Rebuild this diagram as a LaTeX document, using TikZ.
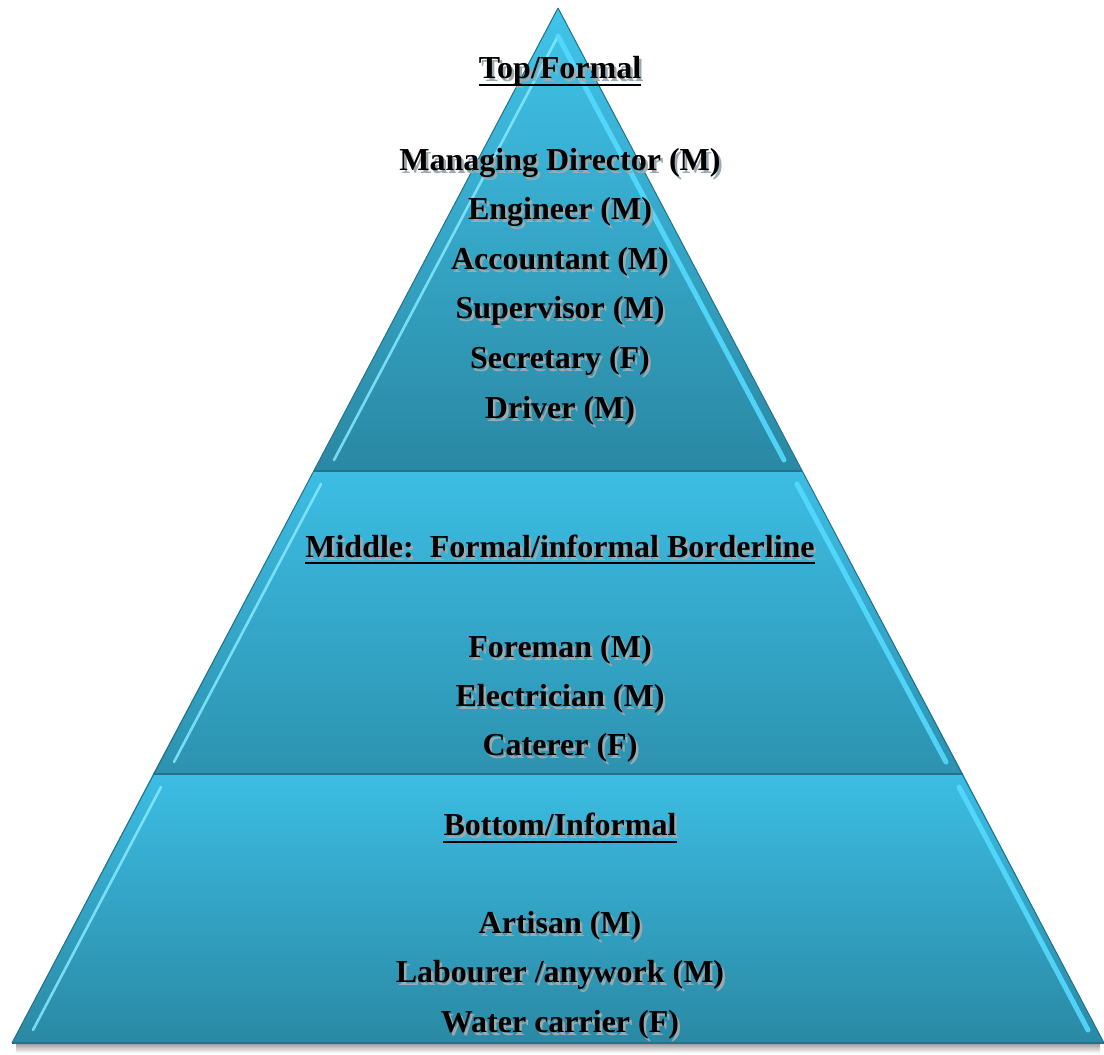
\documentclass[tikz,border=0pt]{standalone}
\usepackage{fontspec}
\setmainfont{Liberation Serif}
\definecolor{secTopA}{HTML}{40C4EA}
\definecolor{secBotA}{HTML}{2A88A3}
\definecolor{secTopB}{HTML}{3CBDE3}
\definecolor{secBotB}{HTML}{2D92B0}
\definecolor{secTopC}{HTML}{3CBDE3}
\definecolor{secBotC}{HTML}{2A89A4}
\definecolor{edgeDark}{HTML}{22728A}
\definecolor{bevelLight}{HTML}{86E9FF}
\definecolor{bevelBright}{HTML}{55DAFF}
\definecolor{txtShadow}{HTML}{9AAAB0}
\tikzset{
  lbl/.style={anchor=base, inner sep=0pt, font=\fontsize{32}{38}\selectfont\bfseries, text=black},
  bevel/.style={draw=bevelLight, line width=2.6pt, opacity=0.85, line cap=round},
  bevelR/.style={draw=bevelBright, line width=5pt, opacity=0.9, line cap=round},
  divider/.style={draw=edgeDark, line width=1.6pt},
  uline/.style={draw=black, line width=2.8pt}
}
\newcommand\shtext[1]{\rlap{\hspace{2.5pt}\raisebox{-3pt}{\textcolor{txtShadow}{#1}}}#1}
\newcommand\plabel[3]{\node[lbl] (#1) at (560,#2) {\shtext{#3}};}
\begin{document}
\begin{tikzpicture}[x=1pt,y=-1pt]
\useasboundingbox (0,0) rectangle (1104,1055);
% outer corners
\coordinate (A) at (558,8);
\coordinate (L1) at (314,471); \coordinate (R1) at (802,471);
\coordinate (L2) at (153,774); \coordinate (R2) at (963,774);
\coordinate (L3) at (12,1043); \coordinate (R3) at (1104,1043);
% base shadow
\shade[top color=black!40, bottom color=white] (16,1043) rectangle (1100,1053);
% sections
\shade[top color=secTopA, bottom color=secBotA] (A) -- (R1) -- (L1) -- cycle;
\shade[top color=secTopB, bottom color=secBotB] (L1) -- (R1) -- (R2) -- (L2) -- cycle;
\shade[top color=secTopC, bottom color=secBotC] (L2) -- (R2) -- (R3) -- (L3) -- cycle;
% bevel highlights
\coordinate (iA) at (558,36);
\coordinate (iL1) at (334,460); \coordinate (iR1) at (784,460);
\coordinate (iL2t) at (321,484); \coordinate (iR2t) at (797,484);
\coordinate (iL2b) at (174,762); \coordinate (iR2b) at (946,762);
\coordinate (iL3t) at (161,787); \coordinate (iR3t) at (959,787);
\coordinate (iL3b) at (33,1030); \coordinate (iR3b) at (1088,1030);
\draw[bevel] (iA) -- (iL1);
\draw[bevelR] (iA) -- (iR1);
\draw[bevel] (iL2t) -- (iL2b);
\draw[bevelR] (iR2t) -- (iR2b);
\draw[bevel] (iL3t) -- (iL3b);
\draw[bevelR] (iR3t) -- (iR3b);
% outline and dividers
\draw[draw=edgeDark, line width=1pt] (A) -- (L3) (A) -- (R3);
\draw[divider] (L1) -- (R1);
\draw[divider] (L2) -- (R2);
\draw[divider] (L3) -- (R3);
% texts
\plabel{h1}{78}{Top/Formal}
\draw[uline] ([yshift=-7pt]h1.base west) -- ([yshift=-7pt]h1.base east);
\plabel{t1}{170}{Managing Director (M)}
\plabel{t2}{219.6}{Engineer (M)}
\plabel{t3}{269.2}{Accountant (M)}
\plabel{t4}{318.8}{Supervisor (M)}
\plabel{t5}{368.4}{Secretary (F)}
\plabel{t6}{418}{Driver (M)}
\plabel{h2}{557}{Middle:\ \ Formal/informal Borderline}
\draw[uline] ([yshift=-6pt]h2.base west) -- ([yshift=-6pt]h2.base east);
\plabel{m1}{657}{Foreman (M)}
\plabel{m2}{706}{Electrician (M)}
\plabel{m3}{755}{Caterer (F)}
\plabel{h3}{835}{Bottom/Informal}
\draw[uline] ([yshift=-7pt]h3.base west) -- ([yshift=-7pt]h3.base east);
\plabel{b1}{933}{Artisan (M)}
\plabel{b2}{982}{Labourer /anywork (M)}
\plabel{b3}{1032}{Water carrier (F)}
\end{tikzpicture}
\end{document}
